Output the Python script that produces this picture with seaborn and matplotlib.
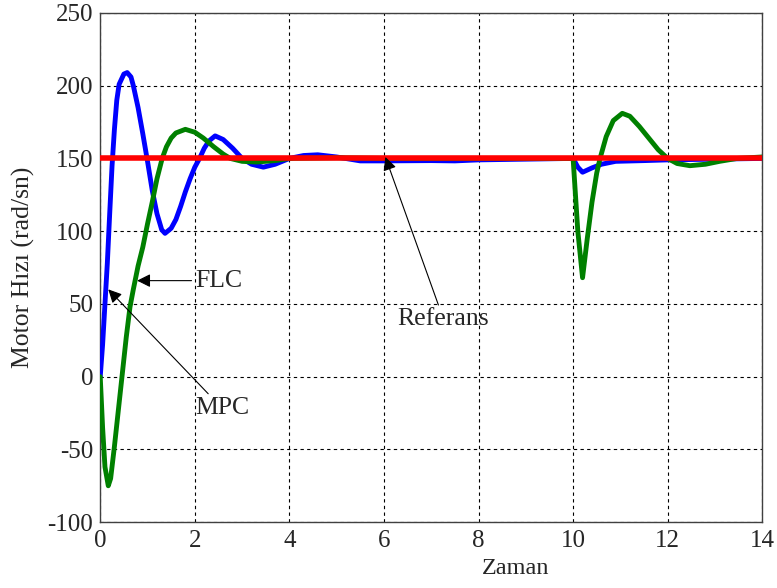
import matplotlib
matplotlib.use("Agg")
import matplotlib.pyplot as plt
import seaborn as sns
import pandas as pd

# ---- data ----
mpc_t = [0, 0.05, 0.1, 0.15, 0.2, 0.25, 0.3, 0.35, 0.4, 0.5, 0.57, 0.65, 0.7, 0.8, 0.9,
         1.0, 1.1, 1.2, 1.3, 1.37, 1.5, 1.6, 1.7, 1.8, 1.9, 2.0, 2.1, 2.2, 2.3, 2.43,
         2.6, 2.8, 3.0, 3.2, 3.45, 3.7, 4.0, 4.3, 4.6, 5.0, 5.5, 6.0, 7.0, 7.5, 8.0,
         9.0, 10.0, 10.1, 10.2, 10.4, 10.6, 10.9, 11.5, 12.0, 13.0, 14.0]
mpc_v = [0, 22, 50, 78, 112, 145, 170, 190, 201, 208, 209, 206, 200, 185, 167,
         148, 128, 112, 101, 98.5, 102, 108, 117, 127, 136, 144, 150, 157, 162, 165.5,
         163, 157, 150, 146, 144, 146, 150, 152, 152.5, 151, 148.3, 148.3, 148.5, 148.3, 149,
         149.5, 150, 144, 140.5, 143.5, 146, 148, 148.5, 149, 149.5, 150]

flc_t = [0, 0.05, 0.1, 0.17, 0.22, 0.3, 0.4, 0.46, 0.55, 0.63, 0.7, 0.8, 0.9, 1.0,
         1.1, 1.2, 1.31, 1.4, 1.5, 1.6, 1.8, 2.0, 2.18, 2.4, 2.6, 2.75, 3.0, 3.3, 3.7,
         4.0, 5.0, 6.0, 8.0, 10.0, 10.05, 10.1, 10.2, 10.3, 10.4, 10.5, 10.57, 10.7,
         10.85, 11.04, 11.2, 11.4, 11.6, 11.8, 12.0, 12.2, 12.47, 12.8, 13.1, 13.47, 14.0]
flc_v = [0, -35, -62, -75, -70, -48, -18, 0, 27, 48, 60, 76, 89, 105,
         120, 136, 150, 158, 164, 167.5, 170, 168, 164, 158, 153, 150, 148, 147.5, 148.5,
         150, 150.5, 150, 150, 150, 125, 100, 68, 95, 120, 140, 150, 165,
         176, 181, 179, 172, 164, 156, 150, 146.5, 145, 146, 148, 150, 151]

ref_t = [0, 14]
ref_v = [150, 150]

xticks = [0, 2, 4, 6, 8, 10, 12, 14]
yticks = [-100, -50, 0, 50, 100, 150, 200, 250]

sns.set_style("white")
plt.rcParams['font.family'] = ['Liberation Serif', 'DejaVu Serif']

fig = plt.figure(figsize=(7.77, 5.88), dpi=100)
ax = fig.add_axes([0.129, 0.112, 0.852, 0.866])

mpc = pd.DataFrame({"t": mpc_t, "v": mpc_v})
flc = pd.DataFrame({"t": flc_t, "v": flc_v})
ref = pd.DataFrame({"t": ref_t, "v": ref_v})

sns.lineplot(data=mpc, x="t", y="v", color="#0000ff", lw=3.5, estimator=None, sort=False, ax=ax, zorder=3)
sns.lineplot(data=flc, x="t", y="v", color="#008000", lw=3.5, estimator=None, sort=False, ax=ax, zorder=4)
sns.lineplot(data=ref, x="t", y="v", color="#ff0000", lw=4.0, estimator=None, sort=False, ax=ax, zorder=5)

ax.set_xlim(0, 14)
ax.set_ylim(-100, 250)
ax.set_xticks(xticks)
ax.set_yticks(yticks)
ax.set_xticklabels([str(v) for v in xticks], fontsize=18)
ax.set_yticklabels([str(v) for v in yticks], fontsize=18)
ax.tick_params(direction="in", length=4, width=0.8, color="#404040", pad=5)
ax.tick_params(axis="x", pad=6)
ax.grid(True, color="black", linestyle=(0, (3, 3)), linewidth=0.8)
for s in ax.spines.values():
    s.set_visible(True)
    s.set_color("#404040")
    s.set_linewidth(1.0)

ax.set_xlabel("Zaman", fontsize=17.5)
ax.set_ylabel("Motor Hızı (rad/sn)", fontsize=18.5)
ax.xaxis.set_label_coords(0.627, -0.07)
ax.yaxis.set_label_coords(-0.098, 0.50)

arrow = dict(arrowstyle="-|>", color="black", lw=0.8, mutation_scale=20,
             shrinkA=0, shrinkB=0)
ax.annotate("FLC", xy=(0.78, 66), xytext=(2.0, 66), fontsize=18.5,
            ha="left", va="center", arrowprops=arrow, zorder=6)
ax.annotate("MPC", xy=(0.17, 60), xytext=(2.0, -14), fontsize=18.5,
            ha="left", va="top", arrowprops=arrow, zorder=6)
ax.annotate("Referans", xy=(6.03, 151), xytext=(7.26, 47), fontsize=18.5,
            ha="center", va="top", arrowprops=arrow, zorder=6)

fig.savefig("out.png", dpi=100)
